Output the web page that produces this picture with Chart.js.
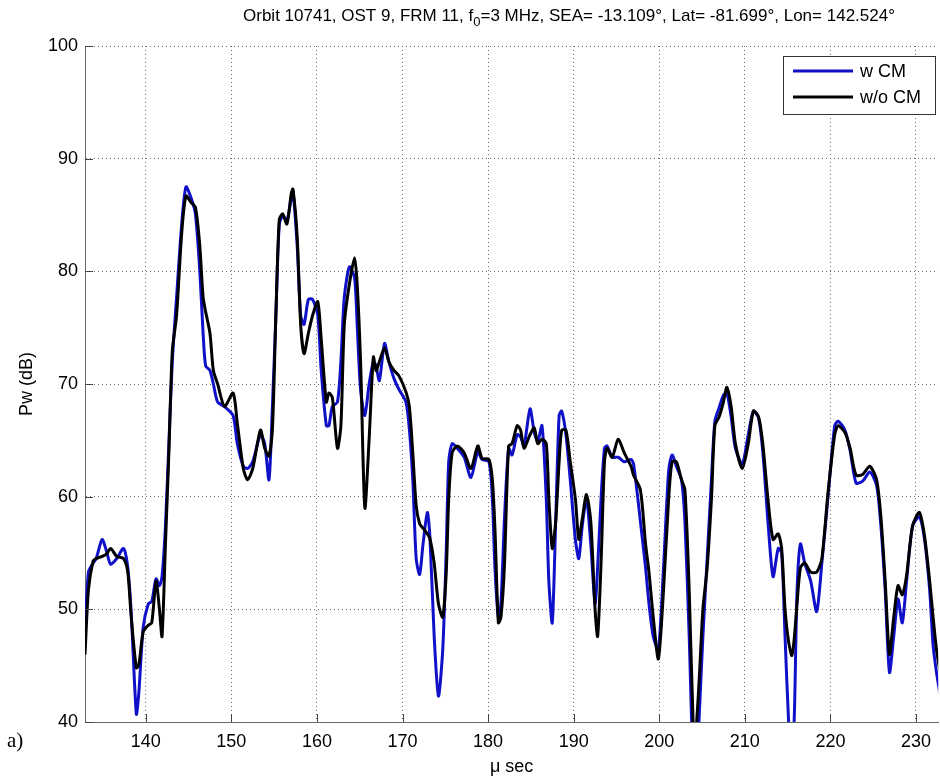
<!DOCTYPE html>
<html>
<head>
<meta charset="utf-8">
<title>Pw w CM / w/o CM</title>
<script src="https://cdn.jsdelivr.net/npm/chart.js@4.4.1/dist/chart.umd.min.js"></script>
<style>
  html, body { margin: 0; padding: 0; background: #fff; }
  #wrap { width: 940px; height: 784px; }
</style>
</head>
<body>
<div id="wrap"><canvas id="chart" width="940" height="784"></canvas></div>
<script>
'use strict';

/* ------------------------------------------------------------
   Data (time in µs, power in dB)
   ------------------------------------------------------------ */
const timeWithCM = [
  132.9, 133.3, 133.85, 134.2, 134.9, 135.4, 135.9, 136.6, 137.4, 137.9,
  138.3, 138.9, 139.2, 139.7, 140.3, 140.7, 141.2, 141.6, 141.9, 142.3,
  142.7, 143.1, 143.6, 144.2, 144.7, 145.3, 145.8, 146.3, 146.7, 147.0,
  147.5, 147.9, 148.4, 149.2, 150.2, 150.7, 151.4, 151.9, 152.5, 153.4,
  153.9, 154.4, 154.8, 155.2, 155.6, 156.0, 156.5, 157.0, 157.2, 157.7,
  158.1, 158.5, 159.0, 159.5, 160.1, 160.5, 161.1, 161.4, 161.8, 162.4,
  162.8, 163.2, 163.8, 164.4, 164.7, 165.1, 165.6, 166.1, 166.6, 166.9,
  167.3, 167.9, 168.4, 169.0, 169.6, 170.4, 170.8, 171.2, 171.6, 172.0,
  172.4, 172.9, 173.2, 173.7, 174.2, 174.7, 175.1, 175.4, 175.8, 176.4,
  177.2, 178.0, 178.8, 179.3, 180.1, 180.5, 180.8, 181.2, 181.5, 181.9,
  182.4, 182.8, 183.4, 183.8, 184.2, 184.9, 185.4, 185.8, 186.3, 186.8,
  187.1, 187.5, 187.9, 188.3, 188.6, 189.1, 189.6, 190.2, 190.6, 191.0,
  191.5, 192.0, 192.5, 192.8, 193.2, 193.6, 193.9, 194.5, 195.2, 195.9,
  196.7, 197.0, 197.8, 198.4, 198.8, 199.3, 199.9, 200.5, 201.1, 201.5,
  202.0, 202.6, 203.0, 203.5, 204.0, 204.4, 204.7, 205.1, 205.6, 206.1,
  206.5, 207.0, 207.5, 207.9, 208.4, 208.9, 209.7, 210.4, 211.0, 211.6,
  212.1, 212.7, 213.3, 213.9, 214.3, 214.7, 215.1, 215.5, 215.8, 216.1,
  216.5, 217.0, 217.7, 218.4, 219.0, 219.7, 220.5, 220.9, 221.7, 222.3,
  223.0, 223.8, 224.6, 225.4, 225.9, 226.4, 226.9, 227.4, 227.9, 228.4,
  228.9, 229.6, 230.4, 231.0, 231.6, 232.0, 232.4, 232.8
];
const pwWithCM = [
  48.0, 53.3, 54.1, 54.5, 56.2, 55.2, 54.0, 54.5, 55.4, 53.7,
  49.7, 40.7, 42.7, 48.4, 50.5, 50.7, 52.7, 52.1, 52.9, 57.4,
  64.7, 72.0, 77.7, 84.2, 87.5, 86.5, 85.1, 80.2, 74.5, 71.6,
  71.2, 70.0, 68.4, 68.0, 67.2, 64.7, 62.7, 62.5, 63.1, 65.5,
  64.7, 61.5, 68.0, 76.0, 84.2, 84.9, 84.5, 86.5, 87.1, 82.2,
  76.1, 75.3, 77.5, 77.5, 76.1, 71.2, 66.3, 66.3, 68.0, 68.4,
  72.0, 77.7, 80.4, 79.4, 75.3, 69.5, 67.2, 70.0, 72.0, 71.6,
  70.3, 73.6, 72.0, 70.5, 69.5, 68.4, 66.0, 61.5, 54.5, 53.1,
  55.8, 58.6, 56.5, 47.6, 42.3, 46.4, 54.9, 63.1, 64.7, 64.3,
  63.5, 61.7, 64.0, 63.3, 63.1, 59.8, 53.7, 49.3, 50.5, 57.8,
  64.3, 63.7, 65.5, 65.3, 64.5, 67.8, 65.7, 64.9, 66.3, 59.8,
  52.5, 48.8, 57.8, 67.2, 67.6, 65.5, 61.5, 56.2, 54.5, 57.4,
  59.8, 55.8, 50.5, 53.7, 59.8, 64.3, 64.5, 63.5, 63.5, 63.1,
  63.3, 62.9, 57.8, 53.7, 50.5, 47.6, 46.4, 53.7, 62.3, 63.7,
  62.7, 61.5, 57.8, 47.6, 36.0, 37.0, 41.0, 47.6, 54.5, 61.5,
  66.7, 67.9, 69.0, 69.2, 67.1, 64.3, 62.9, 65.5, 67.6, 67.0,
  64.0, 57.8, 52.9, 55.4, 55.0, 47.6, 40.3, 36.0, 41.0, 51.6,
  55.8, 54.1, 52.5, 49.8, 54.1, 59.8, 66.3, 66.7, 65.9, 64.1,
  61.2, 61.4, 62.2, 61.0, 57.4, 51.7, 44.4, 47.6, 50.9, 48.8,
  52.5, 57.4, 58.2, 56.2, 51.7, 46.8, 44.4, 42.5
];

const timeWithoutCM = [
  132.9, 133.3, 133.85, 134.2, 134.9, 135.4, 135.9, 136.6, 137.4, 137.9,
  138.3, 138.9, 139.2, 139.7, 140.3, 140.7, 141.2, 141.6, 141.9, 142.3,
  142.7, 143.1, 143.6, 144.2, 144.7, 145.3, 145.8, 146.3, 146.7, 147.0,
  147.5, 147.9, 148.4, 149.2, 150.2, 150.7, 151.4, 151.9, 152.5, 153.4,
  153.9, 154.4, 154.8, 155.2, 155.6, 156.0, 156.5, 157.0, 157.2, 157.7,
  158.1, 158.5, 159.0, 159.5, 160.1, 160.5, 161.1, 161.4, 161.8, 162.4,
  162.8, 163.2, 163.8, 164.4, 164.7, 165.1, 165.6, 166.1, 166.6, 166.9,
  167.3, 167.9, 168.4, 169.0, 169.6, 170.4, 170.8, 171.2, 171.6, 172.0,
  172.4, 172.9, 173.2, 173.7, 174.2, 174.7, 175.1, 175.4, 175.8, 176.4,
  177.2, 178.0, 178.8, 179.3, 180.1, 180.5, 180.8, 181.2, 181.5, 181.9,
  182.4, 182.8, 183.4, 183.8, 184.2, 184.9, 185.4, 185.8, 186.3, 186.8,
  187.1, 187.5, 187.9, 188.3, 188.6, 189.1, 189.6, 190.2, 190.6, 191.0,
  191.5, 192.0, 192.5, 192.8, 193.2, 193.6, 193.9, 194.5, 195.2, 195.9,
  196.7, 197.0, 197.8, 198.4, 198.8, 199.3, 199.9, 200.5, 201.1, 201.5,
  202.0, 202.6, 203.0, 203.5, 204.0, 204.2, 204.4, 204.7, 205.1, 205.6,
  206.1, 206.5, 207.0, 207.5, 207.9, 208.4, 208.9, 209.7, 210.4, 211.0,
  211.6, 212.1, 212.7, 213.3, 213.9, 214.3, 214.7, 215.1, 215.5, 215.8,
  216.1, 216.5, 217.0, 217.7, 218.4, 219.0, 219.7, 220.5, 220.9, 221.7,
  222.3, 223.0, 223.8, 224.6, 225.4, 225.9, 226.4, 226.9, 227.4, 227.9,
  228.4, 228.9, 229.6, 230.4, 231.0, 231.6, 232.0, 232.4, 232.8
];
const pwWithoutCM = [
  46.0, 51.7, 54.3, 54.5, 54.7, 54.9, 55.4, 54.7, 54.5, 53.3,
  49.3, 44.8, 45.1, 48.0, 48.6, 48.8, 52.5, 50.0, 47.6, 55.8,
  63.9, 72.9, 76.1, 83.4, 86.7, 86.1, 85.7, 82.4, 77.7, 76.4,
  74.5, 71.2, 70.0, 68.0, 69.2, 66.5, 62.5, 61.5, 62.5, 65.9,
  64.3, 63.6, 66.0, 76.0, 84.6, 85.1, 84.2, 86.9, 87.3, 83.0,
  75.3, 72.7, 74.5, 76.1, 77.3, 74.0, 68.4, 69.2, 68.8, 64.3,
  66.3, 75.3, 78.9, 81.2, 78.9, 72.0, 59.0, 65.1, 72.4, 71.2,
  72.0, 73.2, 72.0, 71.2, 70.7, 69.3, 68.0, 63.9, 59.2, 57.6,
  57.2, 56.7, 56.3, 54.1, 50.5, 49.3, 53.1, 59.8, 63.9, 64.5,
  63.9, 62.5, 64.5, 63.4, 63.3, 61.5, 57.2, 48.8, 49.3, 53.7,
  64.5, 64.7, 66.3, 65.9, 64.3, 65.5, 66.1, 64.7, 65.1, 64.7,
  59.8, 55.4, 57.8, 63.1, 65.9, 65.9, 63.1, 59.8, 56.2, 58.0,
  60.2, 57.8, 50.0, 47.6, 54.1, 63.1, 64.3, 63.5, 65.1, 63.9,
  62.7, 61.9, 60.6, 55.8, 53.3, 49.3, 45.6, 51.7, 59.8, 63.1,
  63.1, 61.5, 60.6, 51.7, 39.0, 38.5, 40.3, 44.2, 50.0, 53.7,
  59.8, 66.3, 67.1, 68.4, 69.7, 68.0, 64.7, 62.5, 64.7, 67.6,
  67.1, 64.7, 59.8, 56.2, 56.7, 55.4, 50.0, 47.2, 45.9, 47.6,
  50.5, 53.7, 54.1, 53.3, 53.3, 54.5, 60.2, 65.5, 66.3, 65.7,
  64.3, 61.9, 62.0, 62.7, 61.5, 58.2, 52.5, 46.0, 49.3, 52.1,
  51.3, 53.0, 57.4, 58.6, 56.5, 52.5, 49.3, 46.4, 44.5
];

const seriesLabels = ['w CM', 'w/o CM'];
const xTicks = { min: 132.9, max: 232.6, step: 10 };
const yTicks = { min: 40, max: 100, step: 10 };

const BLUE  = '#1010c8';
const BLACK = '#000000';
const FONT  = '"Liberation Sans", Arial, sans-serif';

function toPoints(xs, ys) {
  return xs.map((x, i) => ({ x, y: ys[i] }));
}

/* ------------------------------------------------------------
   Small plugins: title with subscript, legend box, inner ticks
   ------------------------------------------------------------ */
const titlePlugin = {
  id: 'orbitTitle',
  afterDraw(chart) {
    const ctx = chart.ctx;
    const parts = [
      { t: 'Orbit 10741, OST 9, FRM 11, f', size: 17, dy: 0 },
      { t: '0', size: 13, dy: 5 },
      { t: '=3 MHz, SEA= -13.109\u00b0, Lat= -81.699\u00b0, Lon= 142.524\u00b0', size: 17, dy: 0 },
    ];
    ctx.save();
    ctx.fillStyle = '#000';
    ctx.textBaseline = 'alphabetic';
    let total = 0;
    parts.forEach(p => {
      ctx.font = p.size + 'px ' + FONT;
      p.w = ctx.measureText(p.t).width;
      total += p.w;
    });
    let x = 569 - total / 2;
    parts.forEach(p => {
      ctx.font = p.size + 'px ' + FONT;
      ctx.fillText(p.t, x, 21 + p.dy);
      x += p.w;
    });
    ctx.restore();
  }
};

const legendPlugin = {
  id: 'boxLegend',
  afterDraw(chart) {
    const ctx = chart.ctx;
    const box = { x: 783, y: 56, w: 152, h: 58 };
    ctx.save();
    ctx.fillStyle = '#fff';
    ctx.fillRect(box.x, box.y, box.w, box.h);
    ctx.strokeStyle = '#333';
    ctx.lineWidth = 1;
    ctx.strokeRect(box.x + 0.5, box.y + 0.5, box.w, box.h);
    ctx.font = '18px ' + FONT;
    ctx.textBaseline = 'middle';
    ctx.fillStyle = '#000';
    chart.data.datasets.forEach((ds, i) => {
      const yy = box.y + 15 + i * 26;
      ctx.strokeStyle = ds.borderColor;
      ctx.lineWidth = 3;
      ctx.beginPath();
      ctx.moveTo(box.x + 10, yy);
      ctx.lineTo(box.x + 70, yy);
      ctx.stroke();
      ctx.fillText(ds.label, box.x + 77, yy + 1);
    });
    ctx.restore();
  }
};

const innerTicksPlugin = {
  id: 'innerTicks',
  afterDatasetsDraw(chart) {
    const { ctx, chartArea, scales } = chart;
    ctx.save();
    ctx.strokeStyle = '#444';
    ctx.lineWidth = 1;
    ctx.beginPath();
    scales.y.ticks.forEach(t => {
      const py = Math.round(scales.y.getPixelForValue(t.value)) + 0.5;
      ctx.moveTo(chartArea.left, py);
      ctx.lineTo(chartArea.left + 8, py);
    });
    scales.x.ticks.forEach(t => {
      const px = Math.round(scales.x.getPixelForValue(t.value)) + 0.5;
      ctx.moveTo(px, chartArea.bottom);
      ctx.lineTo(px, chartArea.bottom - 8);
    });
    ctx.stroke();
    // panel letter
    ctx.font = '21px "Liberation Serif", "Times New Roman", serif';
    ctx.fillStyle = '#000';
    ctx.textBaseline = 'middle';
    ctx.fillText('a)', 7, 741);
    ctx.restore();
  }
};

/* ------------------------------------------------------------
   Chart
   ------------------------------------------------------------ */
const gridOpts = {
  color: '#6e6e6e',
  lineWidth: 1,
  drawTicks: false,
};

new Chart(document.getElementById('chart'), {
  type: 'line',
  data: {
    datasets: [
      {
        label: seriesLabels[0],
        data: toPoints(timeWithCM, pwWithCM),
        borderColor: BLUE,
        borderWidth: 3,
        pointRadius: 0,
        tension: 0.25,
        fill: false,
        order: 2,
      },
      {
        label: seriesLabels[1],
        data: toPoints(timeWithoutCM, pwWithoutCM),
        borderColor: BLACK,
        borderWidth: 3,
        pointRadius: 0,
        tension: 0.25,
        fill: false,
        order: 1,
      },
    ],
  },
  options: {
    responsive: false,
    devicePixelRatio: 1,
    animation: false,
    layout: { padding: { top: 46, left: 0, right: 0, bottom: 0 } },
    plugins: {
      legend: { display: false },
      title: { display: false },
      tooltip: { enabled: false },
    },
    scales: {
      x: {
        type: 'linear',
        min: xTicks.min,
        max: xTicks.max,
        grid: gridOpts,
        border: { display: true, color: '#6a6a6a', width: 1, dash: [1, 3] },
        ticks: {
          stepSize: xTicks.step,
          includeBounds: false,
          color: '#000',
          padding: 9,
          maxRotation: 0,
          font: { family: FONT, size: 18 },
        },
        title: {
          display: true,
          text: '\u03bc sec',
          color: '#000',
          font: { family: FONT, size: 18 },
          padding: { top: 0, bottom: 6 },
        },
        afterFit(scale) { scale.height = 62; },
      },
      y: {
        min: yTicks.min,
        max: yTicks.max,
        grid: gridOpts,
        border: { display: true, color: '#6a6a6a', width: 1, dash: [1, 3] },
        ticks: {
          stepSize: yTicks.step,
          color: '#000',
          padding: 7,
          font: { family: FONT, size: 18 },
        },
        title: {
          display: true,
          text: 'Pw (dB)',
          color: '#000',
          font: { family: FONT, size: 18 },
          padding: { top: 16, bottom: 0 },
        },
        afterFit(scale) { scale.width = 85; },
      },
    },
  },
  plugins: [titlePlugin, legendPlugin, innerTicksPlugin],
});
</script>
</body>
</html>
